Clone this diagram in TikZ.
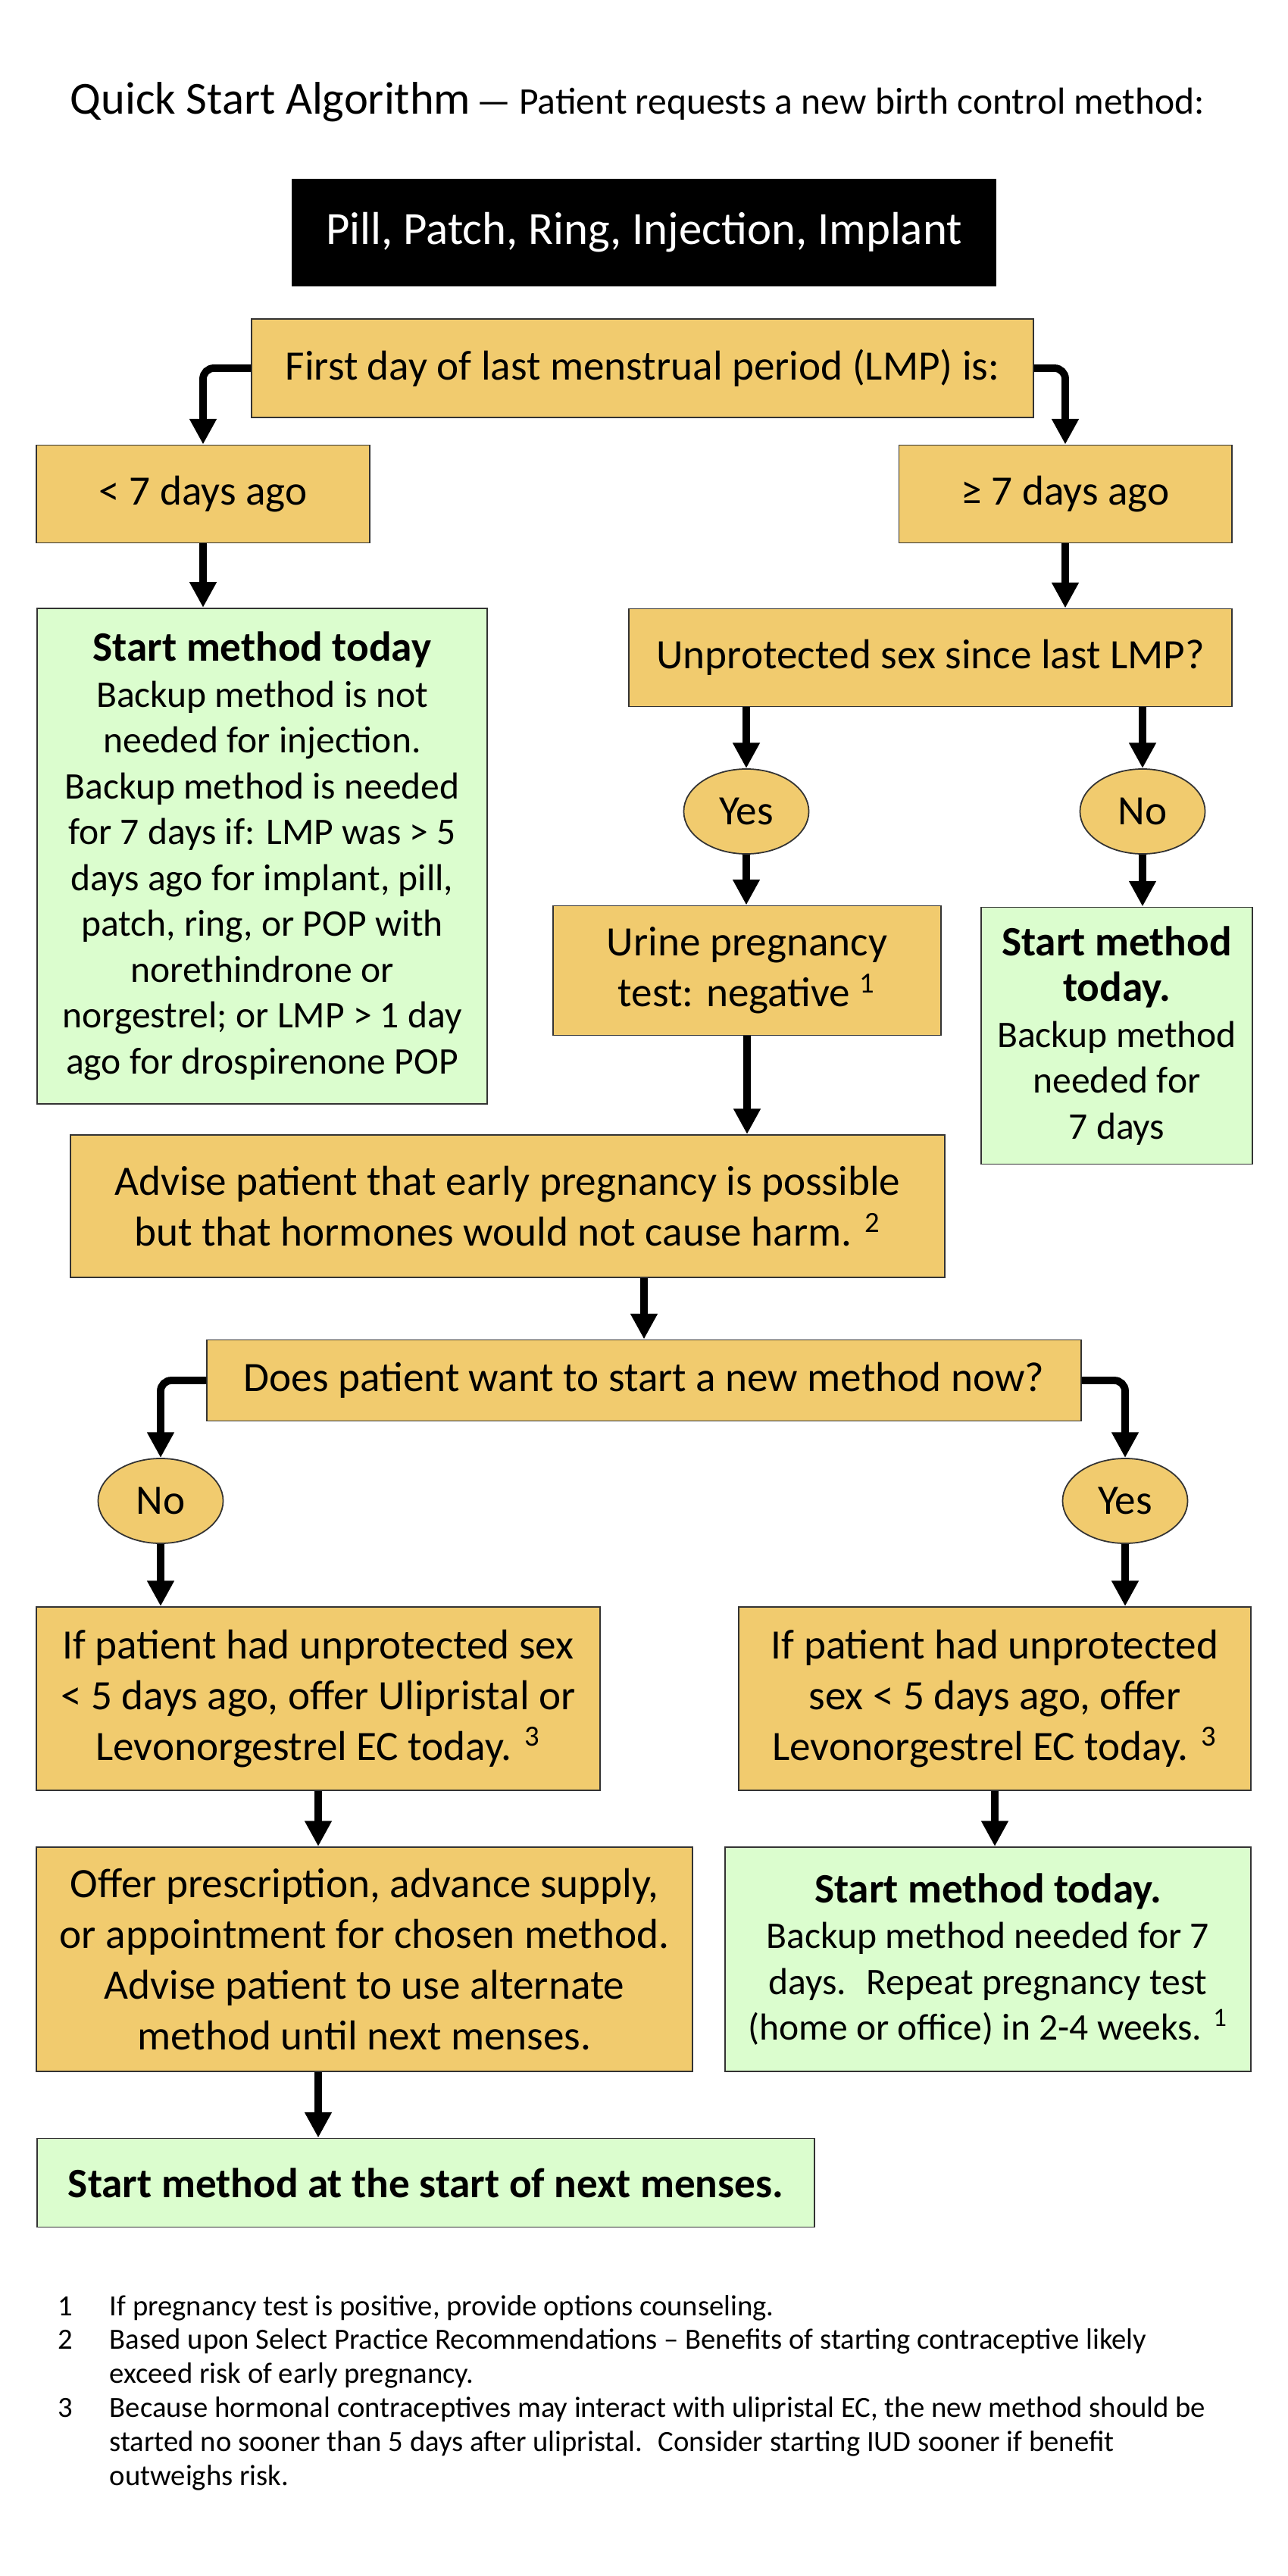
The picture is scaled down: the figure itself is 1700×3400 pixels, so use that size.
\documentclass[tikz,border=0pt]{standalone}
\usepackage{fontspec}
\setmainfont{Carlito}
\usetikzlibrary{arrows.meta,shapes.geometric}
\definecolor{boxgold}{HTML}{F1CB6E}
\definecolor{boxgreen}{HTML}{DBFDCE}
\newcommand{\bigtxt}{\fontsize{15.7}{19}\selectfont}
\newcommand{\smalltxt}{\fontsize{14.1}{17.2}\selectfont}
\newcommand{\boxhead}[1]{{\bfseries\bigtxt #1}}

\begin{document}
\begin{tikzpicture}[x=0.01cm,y=-0.01cm,>={Triangle[length=9.6pt,width=9.6pt]},
    goldbox/.style={draw=black!80,line width=0.5pt,fill=boxgold,inner sep=0pt,align=center,font=\bigtxt},
    greenbox/.style={draw=black!80,line width=0.5pt,fill=boxgreen,inner sep=0pt,align=center,font=\smalltxt},
    choice/.style={ellipse,draw=black!80,line width=0.5pt,fill=boxgold,inner sep=0pt,minimum width=1.65cm,minimum height=1.12cm,font=\bigtxt},
    flow/.style={->,line width=2.8pt,rounded corners=4pt}]
    \useasboundingbox (0,0) rectangle (1700,3400);
    % heading
    \node[anchor=base west,inner sep=0pt] (title) at (92,151) {{\fontsize{17.2}{20}\selectfont Quick Start Algorithm} \fontsize{14.1}{17}\selectfont — Patient requests a new birth control method:};
    \node[fill=black,text=white,inner sep=0pt,minimum width=9.29cm,minimum height=1.42cm,font=\fontsize{17.3}{20}\selectfont] (methods) at (850,307) {Pill, Patch, Ring, Injection, Implant};
    % first question
    \node[goldbox,minimum width=10.31cm,minimum height=1.30cm] (lmp) at (848,486) {First day of last menstrual period (LMP) is:};
    \node[goldbox,minimum width=4.39cm,minimum height=1.29cm] (recent) at (268,652) {< 7 days ago};
    \node[goldbox,minimum width=4.39cm,minimum height=1.29cm] (late) at (1406,652) {≥ 7 days ago};
    \node[greenbox,minimum width=5.94cm,minimum height=6.54cm] (starta) at (346,1130) {\boxhead{Start method today}\\Backup method is not\\needed for injection.\\Backup method is needed\\for 7 days if: LMP was > 5\\days ago for implant, pill,\\patch, ring, or POP with\\norethindrone or\\norgestrel; or LMP > 1 day\\ago for drospirenone POP};
    \node[goldbox,minimum width=7.95cm,minimum height=1.29cm] (unsafe) at (1228,868) {Unprotected sex since last LMP?};
    \node[choice] (yesa) at (985,1071) {Yes};
    \node[choice] (noa) at (1508,1071) {No};
    \node[goldbox,minimum width=5.12cm,minimum height=1.71cm] (urine) at (986,1281) {Urine pregnancy\\test: negative \textsuperscript{1}};
    \node[greenbox,minimum width=3.58cm,minimum height=3.39cm] (startb) at (1474,1367) {\boxhead{Start method}\\\boxhead{today.}\\Backup method\\needed for\\7 days};
    % second question
    \node[goldbox,minimum width=11.54cm,minimum height=1.88cm] (advise) at (670,1592) {Advise patient that early pregnancy is possible\\but that hormones would not cause harm. \textsuperscript{2}};
    \node[goldbox,minimum width=11.53cm,minimum height=1.07cm] (want) at (850,1822) {Does patient want to start a new method now?};
    \node[choice] (nob) at (212,1981) {No};
    \node[choice] (yesb) at (1485,1981) {Yes};
    \node[goldbox,minimum width=7.43cm,minimum height=2.42cm] (ecno) at (420,2242) {If patient had unprotected sex\\< 5 days ago, offer Ulipristal or\\Levonorgestrel EC today. \textsuperscript{3}};
    \node[goldbox,minimum width=6.75cm,minimum height=2.42cm] (ecyes) at (1313,2242) {If patient had unprotected\\sex < 5 days ago, offer\\Levonorgestrel EC today. \textsuperscript{3}};
    \node[goldbox,minimum width=8.65cm,minimum height=2.96cm] (offer) at (481,2586) {Offer prescription, advance supply,\\or appointment for chosen method.\\Advise patient to use alternate\\method until next menses.};
    \node[greenbox,minimum width=6.94cm,minimum height=2.96cm] (startc) at (1304,2586) {\boxhead{Start method today.}\\Backup method needed for 7\\days.~ Repeat pregnancy test\\(home or office) in 2-4 weeks. \textsuperscript{1}};
    \node[greenbox,minimum width=10.26cm,minimum height=1.17cm,font=\bfseries\bigtxt] (startd) at (562,2881) {Start method at the start of next menses.};
    % connectors
    \draw[flow] (lmp.west) -| (recent.north);
    \draw[flow] (lmp.east) -| (late.north);
    \draw[flow] (recent.south) -- (recent.south |- starta.north);
    \draw[flow] (late.south) -- (late.south |- unsafe.north);
    \draw[flow] (yesa.north |- unsafe.south) -- (yesa.north);
    \draw[flow] (noa.north |- unsafe.south) -- (noa.north);
    \draw[flow] (yesa.south) -- (yesa.south |- urine.north);
    \draw[flow] (noa.south) -- (noa.south |- startb.north);
    \draw[flow] (urine.south) -- (urine.south |- advise.north);
    \draw[flow] (want.north |- advise.south) -- (want.north);
    \draw[flow] (want.west) -| (nob.north);
    \draw[flow] (want.east) -| (yesb.north);
    \draw[flow] (nob.south) -- (nob.south |- ecno.north);
    \draw[flow] (yesb.south) -- (yesb.south |- ecyes.north);
    \draw[flow] (ecno.south) -- (ecno.south |- offer.north);
    \draw[flow] (ecyes.south) -- (ecyes.south |- startc.north);
    \draw[flow] (ecno.south |- offer.south) -- (ecno.south |- startd.north);
    % footnotes
    \node[anchor=base west,inner sep=0pt,font=\fontsize{11}{12.75}\selectfont] (notes) at (76,3056) {\begin{tabular}[t]{@{}p{19.35pt}@{}l@{}}
        1 & If pregnancy test is positive, provide options counseling.\\
        2 & Based upon Select Practice Recommendations – Benefits of starting contraceptive likely\\
          & exceed risk of early pregnancy.\\
        3 & Because hormonal contraceptives may interact with ulipristal EC, the new method should be\\
          & started no sooner than 5 days after ulipristal.~ Consider starting IUD sooner if benefit\\
          & outweighs risk.
    \end{tabular}};
\end{tikzpicture}
\end{document}
